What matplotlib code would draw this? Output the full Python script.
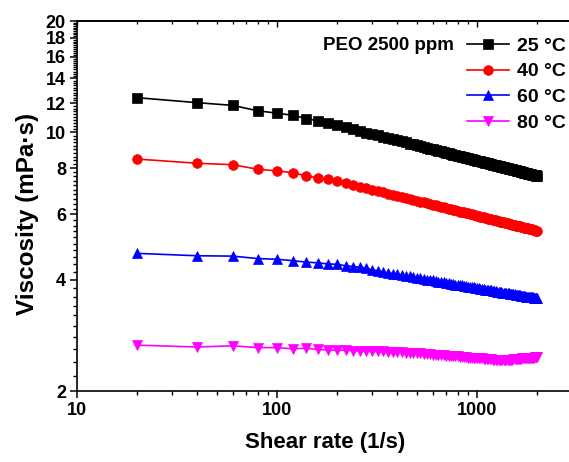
import matplotlib
matplotlib.use("Agg")
import matplotlib.pyplot as plt
from matplotlib.ticker import FixedLocator, NullFormatter, FixedFormatter

plt.rcParams['font.family'] = ['Liberation Sans', 'DejaVu Sans']
plt.rcParams['font.weight'] = 'bold'

shear_rate = list(range(20, 2001, 20))

visc_25 = [12.41, 12.03, 11.83, 11.44, 11.27, 11.12, 10.90, 10.74, 10.60, 10.46,
           10.32, 10.20, 10.09, 9.99, 9.89, 9.81, 9.73, 9.65, 9.58, 9.51,
           9.45, 9.39, 9.33, 9.28, 9.23, 9.18, 9.13, 9.08, 9.04, 9.00,
           8.96, 8.92, 8.88, 8.85, 8.81, 8.78, 8.74, 8.71, 8.68, 8.65,
           8.62, 8.59, 8.57, 8.54, 8.51, 8.49, 8.46, 8.44, 8.41, 8.39,
           8.37, 8.35, 8.32, 8.30, 8.28, 8.26, 8.24, 8.22, 8.20, 8.18,
           8.16, 8.15, 8.13, 8.11, 8.09, 8.08, 8.06, 8.04, 8.03, 8.01,
           8.00, 7.98, 7.97, 7.95, 7.94, 7.92, 7.91, 7.89, 7.88, 7.87,
           7.85, 7.84, 7.83, 7.81, 7.80, 7.79, 7.78, 7.76, 7.75, 7.74,
           7.73, 7.72, 7.71, 7.69, 7.68, 7.67, 7.66, 7.65, 7.64, 7.63]

visc_40 = [8.47, 8.25, 8.18, 7.95, 7.87, 7.78, 7.63, 7.54, 7.46, 7.39,
           7.31, 7.22, 7.14, 7.07, 7.00, 6.94, 6.89, 6.83, 6.78, 6.74,
           6.69, 6.65, 6.61, 6.57, 6.54, 6.50, 6.47, 6.44, 6.41, 6.38,
           6.35, 6.32, 6.30, 6.27, 6.25, 6.22, 6.20, 6.18, 6.16, 6.14,
           6.11, 6.09, 6.08, 6.06, 6.04, 6.02, 6.00, 5.99, 5.97, 5.95,
           5.94, 5.92, 5.91, 5.89, 5.88, 5.86, 5.85, 5.83, 5.82, 5.81,
           5.79, 5.78, 5.77, 5.76, 5.74, 5.73, 5.72, 5.71, 5.70, 5.69,
           5.68, 5.67, 5.66, 5.65, 5.63, 5.62, 5.61, 5.60, 5.59, 5.59,
           5.58, 5.57, 5.56, 5.55, 5.54, 5.53, 5.52, 5.51, 5.51, 5.50,
           5.49, 5.48, 5.47, 5.47, 5.46, 5.45, 5.44, 5.43, 5.43, 5.42]

visc_60 = [4.71, 4.64, 4.63, 4.56, 4.54, 4.50, 4.46, 4.44, 4.41, 4.40,
           4.36, 4.34, 4.32, 4.29, 4.25, 4.22, 4.19, 4.17, 4.15, 4.13,
           4.11, 4.09, 4.08, 4.06, 4.04, 4.03, 4.02, 4.00, 3.99, 3.98,
           3.96, 3.95, 3.94, 3.93, 3.92, 3.91, 3.90, 3.89, 3.88, 3.87,
           3.86, 3.86, 3.85, 3.84, 3.83, 3.82, 3.82, 3.81, 3.80, 3.79,
           3.79, 3.78, 3.77, 3.77, 3.76, 3.75, 3.75, 3.74, 3.74, 3.73,
           3.73, 3.72, 3.71, 3.71, 3.70, 3.70, 3.69, 3.69, 3.68, 3.68,
           3.67, 3.67, 3.66, 3.66, 3.66, 3.65, 3.65, 3.64, 3.64, 3.63,
           3.63, 3.63, 3.62, 3.62, 3.61, 3.61, 3.61, 3.60, 3.60, 3.59,
           3.59, 3.59, 3.58, 3.58, 3.58, 3.57, 3.57, 3.57, 3.56, 3.56]

visc_80 = [2.66, 2.63, 2.65, 2.62, 2.62, 2.60, 2.61, 2.59, 2.58, 2.58,
           2.58, 2.57, 2.57, 2.56, 2.56, 2.56, 2.56, 2.55, 2.55, 2.55,
           2.55, 2.54, 2.54, 2.54, 2.53, 2.53, 2.52, 2.52, 2.52, 2.51,
           2.51, 2.50, 2.50, 2.50, 2.49, 2.49, 2.49, 2.48, 2.48, 2.48,
           2.47, 2.47, 2.47, 2.47, 2.46, 2.46, 2.46, 2.46, 2.45, 2.45,
           2.45, 2.45, 2.45, 2.44, 2.44, 2.44, 2.44, 2.44, 2.44, 2.43,
           2.43, 2.43, 2.43, 2.43, 2.43, 2.43, 2.43, 2.43, 2.43, 2.43,
           2.43, 2.43, 2.43, 2.43, 2.43, 2.44, 2.44, 2.44, 2.44, 2.44,
           2.44, 2.44, 2.44, 2.45, 2.45, 2.45, 2.45, 2.45, 2.45, 2.45,
           2.46, 2.46, 2.46, 2.46, 2.46, 2.46, 2.47, 2.47, 2.47, 2.47]

labels = ['25 \u00b0C', '40 \u00b0C', '60 \u00b0C', '80 \u00b0C']
colors = ['black', 'red', 'blue', 'magenta']
markers = ['s', 'o', '^', 'v']
series = [visc_25, visc_40, visc_60, visc_80]

y_major = [2, 4, 6, 8, 10, 12, 14, 16, 18, 20]
x_major = [10, 100, 1000]

fig = plt.figure(figsize=(5.69, 4.62), dpi=100)
ax = fig.add_axes([77/569, 71/462, (572.5-77)/569, 370/462])

for ys, lab, c, m in zip(series, labels, colors, markers):
    ax.plot(shear_rate, ys, color=c, marker=m, markersize=7, linewidth=1.2,
            label=lab, markeredgewidth=0.5)

ax.set_xscale('log')
ax.set_yscale('log')
ax.set_xlim(10, 3000)
ax.set_ylim(2, 20)

ax.yaxis.set_major_locator(FixedLocator(y_major))
ax.yaxis.set_major_formatter(FixedFormatter([str(v) for v in y_major]))
minor_y = [round(2 + 0.2*i, 1) for i in range(91)]
minor_y = [v for v in minor_y if v not in y_major]
ax.yaxis.set_minor_locator(FixedLocator(minor_y))
ax.yaxis.set_minor_formatter(NullFormatter())

ax.xaxis.set_major_locator(FixedLocator(x_major))
ax.xaxis.set_major_formatter(FixedFormatter([str(v) for v in x_major]))
minor_x = [d*m for d in [10, 100, 1000] for m in range(2, 10)]
ax.xaxis.set_minor_locator(FixedLocator(minor_x))
ax.xaxis.set_minor_formatter(NullFormatter())

for s in ax.spines.values():
    s.set_linewidth(1.2)

ax.tick_params(axis='both', which='major', direction='out', length=5, width=1.1,
               labelsize=13, pad=3)
ax.tick_params(axis='both', which='minor', direction='out', length=3, width=1.0)

# top axis: short inward ticks without labels
sec = ax.secondary_xaxis('top')
sec.xaxis.set_major_locator(FixedLocator(x_major))
sec.xaxis.set_minor_locator(FixedLocator(minor_x))
sec.xaxis.set_major_formatter(NullFormatter())
sec.xaxis.set_minor_formatter(NullFormatter())
sec.tick_params(which='major', direction='in', length=4, width=1.0)
sec.tick_params(which='minor', direction='in', length=2.5, width=0.9)
sec.spines['top'].set_linewidth(1.2)

for t in ax.xaxis.get_ticklabels() + ax.yaxis.get_ticklabels():
    t.set_fontweight('bold')

ax.set_xlabel('Shear rate (1/s)', fontsize=16, fontweight='bold', labelpad=9)
ax.set_ylabel('Viscosity (mPa\u00b7s)', fontsize=17.5, fontweight='bold', labelpad=5)
ax.yaxis.label.set_y(0.478)

leg = ax.legend(loc='upper right', bbox_to_anchor=(566/569, 1 - 37/462),
                bbox_transform=fig.transFigure, frameon=False,
                handlelength=2.2, handletextpad=0.4, labelspacing=0.42,
                borderpad=0, borderaxespad=0,
                prop={'size': 14, 'weight': 'bold'})

fig.text(454/569, 1 - 45/462, 'PEO 2500 ppm', ha='right', va='center',
         fontsize=13.5, fontweight='bold')

fig.savefig('out.png', dpi=100)
